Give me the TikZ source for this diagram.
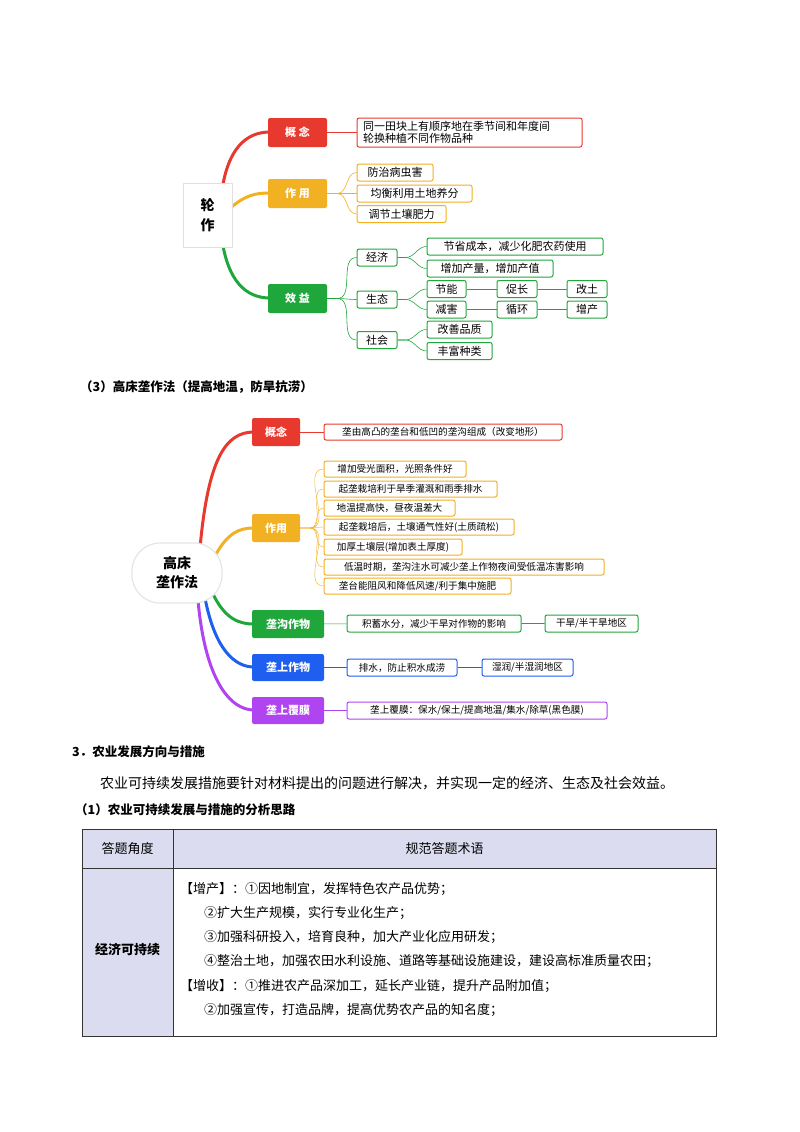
\documentclass[tikz,border=0pt]{standalone}
\usepackage{fontspec}
\setmainfont{Noto Sans CJK SC}
\begin{document}
\begin{tikzpicture}[x=1pt,y=-1pt,
  br/.style={fill=#1,text=white,font=\fontsize{11}{12}\selectfont\bfseries,rounded corners=2pt,inner sep=0pt,minimum height=29pt},
  ch/.style={draw=#1,line width=1pt,rounded corners=2pt,fill=white,inner sep=0pt,minimum height=17pt,font=\fontsize{11}{12}\selectfont},
  chb/.style={draw=#1,line width=1pt,rounded corners=2pt,fill=white,inner sep=0pt,minimum height=17pt,font=\fontsize{9.6}{10}\selectfont},
  thk/.style={draw=#1,line width=3pt,line cap=round},
  thn/.style={draw=#1,line width=0.6pt},
  body/.style={anchor=west,font=\fontsize{13}{14}\selectfont,inner sep=0pt},
  hd/.style={anchor=west,font=\fontsize{12.5}{14}\selectfont\bfseries,inner sep=0pt}]
\definecolor{cR}{HTML}{E8392F}
\definecolor{cO}{HTML}{F2B023}
\definecolor{cG}{HTML}{1FA73C}
\definecolor{cB}{HTML}{1F5FF0}
\definecolor{cP}{HTML}{B044F0}
\definecolor{lav}{HTML}{DCDCF0}
\useasboundingbox (0,0) rectangle (800,1132);
% ---------- Mindmap 1 ----------
\draw[thk=cR] (222,190) .. controls (228,150) and (245,132) .. (270,132);
\draw[thk=cO] (228,210) .. controls (245,195) and (255,193) .. (270,193);
\draw[thk=cG] (222,240) .. controls (228,280) and (245,298) .. (270,298);
\node[draw=black!12,fill=white,line width=1pt,minimum width=49pt,minimum height=64pt,inner sep=0pt,font=\fontsize{14}{20}\selectfont\bfseries,align=center] (r1) at (207.5,215) {轮\\作};
\node[br=cR,minimum width=59pt] (g1) at (297.5,132.5) {概 念};
\node[br=cO,minimum width=59pt] (z1) at (297.5,193.5) {作 用};
\node[br=cG,minimum width=59pt] (x1) at (297.5,298.5) {效 益};
\node[ch=cR,minimum width=225pt,minimum height=29pt,align=left,text width=213pt,font=\fontsize{11}{12.5}\selectfont] (g1a) at (469.5,132.5) {同一田块上有顺序地在季节间和年度间\\轮换种植不同作物品种};
\node[ch=cO,minimum width=76pt] (z1a) at (395,172.5) {防治病虫害};
\node[ch=cO,minimum width=115pt] (z1b) at (414.5,193.5) {均衡利用土地养分};
\node[ch=cO,minimum width=89pt] (z1c) at (401.5,214) {调节土壤肥力};
\node[ch=cG,minimum width=40pt] (jj) at (377,257.5) {经济};
\node[ch=cG,minimum width=40pt] (st) at (377,299.5) {生态};
\node[ch=cG,minimum width=40pt] (sh) at (377,340) {社会};
\node[ch=cG,minimum width=176pt] (jj1) at (515,246.5) {节省成本，减少化肥农药使用};
\node[ch=cG,minimum width=126pt] (jj2) at (490,268.5) {增加产量，增加产值};
\node[ch=cG,minimum width=39pt] (st1) at (446.5,289) {节能};
\node[ch=cG,minimum width=39pt] (st2) at (446.5,309.5) {减害};
\node[ch=cG,minimum width=40pt] (st3) at (517,289) {促长};
\node[ch=cG,minimum width=40pt] (st4) at (517,309.5) {循环};
\node[ch=cG,minimum width=40pt] (st5) at (587,289) {改土};
\node[ch=cG,minimum width=40pt] (st6) at (587,309.5) {增产};
\node[ch=cG,minimum width=65pt] (sh1) at (459.5,329.5) {改善品质};
\node[ch=cG,minimum width=65pt] (sh2) at (459.5,351) {丰富种类};
\draw[thn=cR] (g1.east) -- (g1a.west);
\foreach \c in {z1a,z1b,z1c} \draw[thn=cO] (z1.east) -- ++(10,0) to[out=0,in=180] (\c.west);
\foreach \c in {jj,st,sh} \draw[thn=cG] (x1.east) -- ++(10,0) to[out=0,in=180] (\c.west);
\foreach \c in {jj1,jj2} \draw[thn=cG] (jj.east) -- ++(8,0) to[out=0,in=180] (\c.west);
\foreach \c in {st1,st2} \draw[thn=cG] (st.east) -- ++(8,0) to[out=0,in=180] (\c.west);
\foreach \c in {sh1,sh2} \draw[thn=cG] (sh.east) -- ++(8,0) to[out=0,in=180] (\c.west);
\draw[thn=cG] (st1) -- (st3) -- (st5) (st2) -- (st4) -- (st6);
% ---------- heading ----------
\node[hd] (h3) at (80,387) {（3）高床垄作法（提高地温，防旱抗涝）};
% ---------- Mindmap 2 ----------
\draw[thk=cR] (200,548) .. controls (208,460) and (225,432) .. (254,432);
\draw[thk=cO] (215,556) .. controls (228,532) and (240,528) .. (254,528);
\draw[thk=cG] (212,592) .. controls (225,620) and (240,624) .. (254,624);
\draw[thk=cB] (205,598) .. controls (215,650) and (235,667) .. (254,667);
\draw[thk=cP] (198,600) .. controls (205,680) and (230,710) .. (254,710);
\node[draw=black!10,fill=white,line width=1.2pt,minimum width=90pt,minimum height=60pt,rounded corners=28pt,inner sep=0pt,font=\fontsize{14}{19}\selectfont\bfseries,align=center] (r2) at (177,573) {高床\\垄作法};
\node[br=cR,minimum width=48pt,minimum height=28pt] (g2) at (276,432) {概念};
\node[br=cO,minimum width=48pt,minimum height=28pt] (z2) at (276,528) {作用};
\node[br=cG,minimum width=72pt,minimum height=28pt] (gg) at (288,624) {垄沟作物};
\node[br=cB,minimum width=72pt,minimum height=27pt] (gs) at (288,667.5) {垄上作物};
\node[br=cP,minimum width=72pt,minimum height=27pt] (gf) at (288,710.5) {垄上覆膜};
\node[chb=cR,minimum width=238pt,minimum height=16pt] (g2a) at (443,432) {垄由高凸的垄台和低凹的垄沟组成（改变地形）};
\foreach \n/\y/\w/\t in {a/469/142/增加受光面积，光照条件好, b/489/173/起垄栽培利于旱季灌溉和雨季排水, c/508/131/地温提高快，昼夜温差大, d/527/190/起垄栽培后，土壤通气性好(土质疏松), e/547/138/加厚土壤层(增加表土厚度), f/567/280/低温时期，垄沟注水可减少垄上作物夜间受低温冻害影响}
  {\node[chb=cO,minimum width=\w pt,minimum height=16pt] (z2\n) at (324+\w/2,\y) {\t};
   \draw[thn=cO,line width=0.4pt] (z2.east) -- ++(10,0) to[out=0,in=180] (z2\n.west);}
\node[chb=cO,minimum width=187pt,minimum height=16pt] (z2g) at (417.5,586) {垄台能阻风和降低风速/利于集中施肥};
\draw[thn=cO,line width=0.4pt] (z2.east) -- ++(10,0) to[out=0,in=180] (z2g.west);
\node[chb=cG,minimum width=174pt] (gg1) at (434,623.5) {积蓄水分，减少干旱对作物的影响};
\node[chb=cG,minimum width=93pt] (gg2) at (591.5,623.5) {干旱/半干旱地区};
\node[chb=cB,minimum width=110pt] (gs1) at (402,667.5) {排水，防止积水成涝};
\node[chb=cB,minimum width=91pt] (gs2) at (527.5,667.5) {湿润/半湿润地区};
\node[chb=cP,minimum width=260pt] (gf1) at (477,710.5) {垄上覆膜：保水/保土/提高地温/集水/除草(黑色膜)};
\draw[thn=cR] (g2) -- (g2a);
\draw[thn=cG] (gg) -- (gg1) -- (gg2);
\draw[thn=cB] (gs) -- (gs1) -- (gs2);
\draw[thn=cP] (gf) -- (gf1);
% ---------- text section ----------
\node[hd] (h4) at (72,752) {3．农业发展方向与措施};
\node[body,font=\fontsize{14}{15}\selectfont] (p1) at (100,783) {农业可持续发展措施要针对材料提出的问题进行解决，并实现一定的经济、生态及社会效益。};
\node[hd] (h5) at (75,810) {（1）农业可持续发展与措施的分析思路};
\fill[lav] (82,829) rectangle (716,868);
\fill[lav] (82,868) rectangle (173,1036);
\draw[line width=1pt,black!80] (82,829) rectangle (716,1036);
\draw[line width=0.8pt,black!80] (82,868) -- (716,868) (173,829) -- (173,1036);
\node[font=\fontsize{13}{14}\selectfont] (t1) at (127.5,848.5) {答题角度};
\node[font=\fontsize{13}{14}\selectfont] (t2) at (444.5,848.5) {规范答题术语};
\node[font=\fontsize{13}{14}\selectfont\bfseries] (t3) at (127.5,950) {经济可持续};
\node[body] (l1) at (180,889) {【增产】：①因地制宜，发挥特色农产品优势；};
\node[body] (l2) at (204,913) {②扩大生产规模，实行专业化生产；};
\node[body] (l3) at (204,937) {③加强科研投入，培育良种，加大产业化应用研发；};
\node[body] (l4) at (204,961) {④整治土地，加强农田水利设施、道路等基础设施建设，建设高标准质量农田；};
\node[body] (l5) at (180,986) {【增收】：①推进农产品深加工，延长产业链，提升产品附加值；};
\node[body] (l6) at (204,1010) {②加强宣传，打造品牌，提高优势农产品的知名度；};
\end{tikzpicture}
\end{document}
